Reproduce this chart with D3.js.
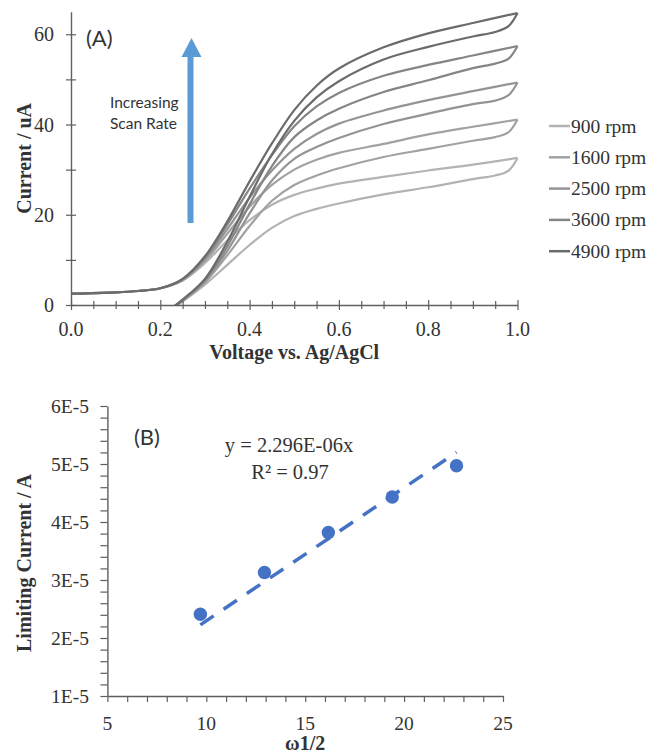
<!DOCTYPE html>
<html>
<head>
<meta charset="utf-8">
<script src="https://cdn.jsdelivr.net/npm/d3@7"></script>
<style>
  body { margin: 0; background: #fff; }
  svg { display: block; }
</style>
</head>
<body>
<svg id="chart" width="652" height="755"></svg>
<script>
// panel A: voltage grid for the forward and the return scan
const voltageFwd = [0, 0.1, 0.15, 0.2, 0.25, 0.3, 0.35, 0.4, 0.45, 0.5, 0.55, 0.6, 0.7, 0.8, 0.9, 1.0];
const voltageRev = [1.0, 0.98, 0.95, 0.9, 0.8, 0.7, 0.6, 0.55, 0.5, 0.45, 0.4, 0.35, 0.3, 0.25, 0.2];

const rpmLabels = ["900 rpm", "1600 rpm", "2500 rpm", "3600 rpm", "4900 rpm"];
const rpmColors = ["#b3b3b3", "#a2a2a2", "#949494", "#858585", "#6b6b6b"];

// current in uA
const fwd900  = [2.5, 2.8, 3.1, 3.7, 5.4, 9.3, 14.3, 18.8, 22.2, 24.4, 25.8, 26.9, 28.4, 29.8, 31.1, 32.6];
const fwd1600 = [2.5, 2.8, 3.1, 3.7, 5.5, 9.8, 15.8, 21.8, 26.6, 30, 32.2, 33.7, 35.7, 37.8, 39.5, 41.1];
const fwd2500 = [2.5, 2.8, 3.1, 3.7, 5.6, 10.2, 16.8, 23.8, 29.8, 34.6, 37.9, 40.2, 43.1, 45.4, 47.4, 49.3];
const fwd3600 = [2.5, 2.8, 3.1, 3.7, 5.7, 10.5, 17.8, 25.8, 33.2, 39.6, 44, 47, 50.8, 53.2, 55.3, 57.4];
const fwd4900 = [2.5, 2.8, 3.1, 3.7, 5.8, 10.8, 18.5, 27.4, 35.8, 43.2, 48.6, 52.4, 57.1, 60.2, 62.5, 64.7];

const rev900  = [32.6, 29.8, 28.7, 27.9, 26.1, 24.5, 22.5, 21.3, 19.7, 17.1, 13.3, 8.9, 4.5, 0.8, -2.5];
const rev1600 = [41.1, 38.3, 37.2, 36.4, 34.6, 32.8, 30.3, 28.7, 26.6, 23.1, 17.5, 11, 5, 0.9, -2.5];
const rev2500 = [49.3, 46.5, 45.3, 44.5, 42.4, 40.1, 37, 35, 32.4, 27.6, 20.3, 12, 5.3, 1, -2.5];
const rev3600 = [57.4, 54.6, 53.5, 52.5, 49.8, 47.2, 43.5, 40.9, 37.2, 30.8, 22.3, 13, 5.5, 1.1, -2.5];
const rev4900 = [64.7, 61.8, 60.5, 59.5, 57.2, 54.4, 49.6, 46, 40.8, 33.4, 24, 14, 5.8, 1.2, -2.5];

const fwdSeries = [fwd900, fwd1600, fwd2500, fwd3600, fwd4900];
const revSeries = [rev900, rev1600, rev2500, rev3600, rev4900];

// panel B: Levich plot
const omegaSqrt = [9.70, 12.94, 16.17, 19.40, 22.65];
const limitingCurrent = [2.41e-5, 3.13e-5, 3.82e-5, 4.43e-5, 4.97e-5];
const trendSlope = 2.296e-6;

const svg = d3.select("#chart");
const serif = "'Liberation Serif', 'Times New Roman', serif";
const sans = "Lato, 'Open Sans', sans-serif";
const axisColor = "#5f5f5f";
const textColor = "#333";

svg.append("rect").attr("width", 652).attr("height", 755).attr("fill", "#fff");

// ---------- panel A ----------
const xA = d3.scaleLinear().domain([0, 1]).range([71, 517.5]);
const yA = d3.scaleLinear().domain([0, 65]).range([305, 11.7]);

svg.append("clipPath").attr("id", "clipA")
  .append("rect")
  .attr("x", xA(0)).attr("y", yA(65))
  .attr("width", xA(1) - xA(0) + 4).attr("height", yA(0) - yA(65));

const curvesA = svg.append("g").attr("clip-path", "url(#clipA)");
const lineFwd = d3.line()
  .x((d, i) => xA(voltageFwd[i]))
  .y((d) => yA(d))
  .curve(d3.curveCatmullRom.alpha(0.5));
const lineRev = d3.line()
  .x((d, i) => xA(voltageRev[i]))
  .y((d) => yA(d))
  .curve(d3.curveCatmullRom.alpha(0.5));

rpmLabels.forEach((name, k) => {
  curvesA.append("path")
    .attr("d", lineFwd(fwdSeries[k]))
    .attr("fill", "none")
    .attr("stroke", rpmColors[k])
    .attr("stroke-width", 2.2)
    .attr("stroke-linejoin", "round");
  curvesA.append("path")
    .attr("d", lineRev(revSeries[k]))
    .attr("fill", "none")
    .attr("stroke", rpmColors[k])
    .attr("stroke-width", 2.2)
    .attr("stroke-linejoin", "round");
});

// x axis (crossing ticks)
const xAxisA = svg.append("g")
  .attr("transform", `translate(0,${yA(0)})`)
  .call(d3.axisBottom(xA).tickValues(d3.range(0, 1.0001, 0.05)).tickFormat("").tickSizeOuter(0));
xAxisA.select(".domain").attr("stroke", axisColor).attr("stroke-width", 1.4);
xAxisA.selectAll(".tick line")
  .attr("stroke", axisColor).attr("stroke-width", 1.2)
  .attr("y1", (d) => (Math.abs(d * 5 - Math.round(d * 5)) < 1e-6 ? -5 : -4))
  .attr("y2", (d) => (Math.abs(d * 5 - Math.round(d * 5)) < 1e-6 ? 5 : 4));

svg.append("g").selectAll("text")
  .data(d3.range(0, 1.0001, 0.2))
  .join("text")
  .attr("x", (d) => xA(d))
  .attr("y", 336)
  .attr("text-anchor", "middle")
  .attr("font-family", serif).attr("font-size", 20).attr("fill", textColor)
  .text((d) => d.toFixed(1));

// y axis
const yAxisA = svg.append("g")
  .attr("transform", `translate(${xA(0)},0)`)
  .call(d3.axisLeft(yA).tickValues(d3.range(0, 61, 10)).tickFormat("").tickSizeOuter(0));
yAxisA.select(".domain").attr("stroke", axisColor).attr("stroke-width", 1.4);
yAxisA.selectAll(".tick line")
  .attr("stroke", axisColor).attr("stroke-width", 1.2)
  .attr("x1", -5).attr("x2", 5);

svg.append("g").selectAll("text")
  .data(d3.range(0, 61, 20))
  .join("text")
  .attr("x", 54)
  .attr("y", (d) => yA(d) + 7)
  .attr("text-anchor", "end")
  .attr("font-family", serif).attr("font-size", 20).attr("fill", textColor)
  .text((d) => d);

svg.append("text")
  .attr("x", (xA(0) + xA(1)) / 2).attr("y", 359)
  .attr("text-anchor", "middle")
  .attr("font-family", serif).attr("font-size", 20).attr("font-weight", "bold").attr("fill", textColor)
  .text("Voltage vs. Ag/AgCl");

svg.append("text")
  .attr("transform", `translate(31,${yA(32.5)}) rotate(-90)`)
  .attr("text-anchor", "middle")
  .attr("font-family", serif).attr("font-size", 20).attr("font-weight", "bold").attr("fill", textColor)
  .text("Current / uA");

svg.append("text")
  .attr("x", 86).attr("y", 46)
  .attr("font-family", sans).attr("font-size", 22).attr("fill", textColor)
  .text("(A)");

// blue arrow
svg.append("rect")
  .attr("x", 187.5).attr("y", 56).attr("width", 6).attr("height", 167)
  .attr("fill", "#5b9bd5");
svg.append("path")
  .attr("d", "M181.5,57 L201.5,57 L191.5,38 Z")
  .attr("fill", "#5b9bd5");

svg.append("text")
  .attr("x", 110).attr("y", 108)
  .attr("font-family", sans).attr("font-size", 15.5).attr("fill", textColor)
  .text("Increasing");
svg.append("text")
  .attr("x", 110).attr("y", 129)
  .attr("font-family", sans).attr("font-size", 15.5).attr("fill", textColor)
  .text("Scan Rate");

// legend
const legend = svg.append("g").selectAll("g")
  .data(rpmLabels)
  .join("g")
  .attr("transform", (d, i) => `translate(549,${126 + i * 31.3})`);
legend.append("line")
  .attr("x1", 0).attr("x2", 21)
  .attr("stroke", (d, i) => rpmColors[i]).attr("stroke-width", 2.5);
legend.append("text")
  .attr("x", 22).attr("y", 6.5)
  .attr("font-family", serif).attr("font-size", 19.5).attr("fill", textColor)
  .text((d) => d);

// ---------- panel B ----------
const xB = d3.scaleLinear().domain([5, 25]).range([107.4, 503]);
const yB = d3.scaleLinear().domain([1e-5, 6e-5]).range([696, 406]);

const xAxisB = svg.append("g")
  .attr("transform", `translate(0,${yB(1e-5)})`)
  .call(d3.axisBottom(xB).tickValues(d3.range(5, 25.001, 1)).tickFormat("").tickSize(6).tickSizeOuter(0));
xAxisB.select(".domain").attr("stroke", axisColor).attr("stroke-width", 1.4);
xAxisB.selectAll(".tick line").attr("stroke", axisColor).attr("stroke-width", 1.2);

svg.append("g").selectAll("text")
  .data(d3.range(5, 25.001, 5))
  .join("text")
  .attr("x", (d) => xB(d))
  .attr("y", 730)
  .attr("text-anchor", "middle")
  .attr("font-family", serif).attr("font-size", 19.5).attr("fill", textColor)
  .text((d) => d);

const yAxisB = svg.append("g")
  .attr("transform", `translate(${xB(5)},0)`)
  .call(d3.axisLeft(yB).tickValues(d3.range(10, 60.001, 2).map((v) => v * 1e-6)).tickFormat("").tickSize(7).tickSizeOuter(0));
yAxisB.select(".domain").attr("stroke", axisColor).attr("stroke-width", 1.4);
yAxisB.selectAll(".tick line").attr("stroke", axisColor).attr("stroke-width", 1.2);

svg.append("g").selectAll("text")
  .data(d3.range(1, 6.001, 1))
  .join("text")
  .attr("x", 89)
  .attr("y", (d) => yB(d * 1e-5) + 7)
  .attr("text-anchor", "end")
  .attr("font-family", serif).attr("font-size", 19.5).attr("fill", textColor)
  .text((d) => `${d}E-5`);

svg.append("text")
  .attr("x", (xB(5) + xB(25)) / 2).attr("y", 750)
  .attr("text-anchor", "middle")
  .attr("font-family", serif).attr("font-size", 20).attr("font-weight", "bold").attr("fill", textColor)
  .text("ω1/2");

svg.append("text")
  .attr("transform", `translate(31,${yB(3.5e-5) + 12}) rotate(-90)`)
  .attr("text-anchor", "middle")
  .attr("font-family", serif).attr("font-size", 20).attr("font-weight", "bold").attr("fill", textColor)
  .text("Limiting Current / A");

// trendline through origin, drawn over the data range
const xMin = d3.min(omegaSqrt), xMax = d3.max(omegaSqrt);
svg.append("line")
  .attr("x1", xB(xMin)).attr("y1", yB(trendSlope * xMin))
  .attr("x2", xB(xMax)).attr("y2", yB(trendSlope * xMax))
  .attr("stroke", "#4472c4").attr("stroke-width", 3.5)
  .attr("stroke-dasharray", "16,12");

svg.append("g").selectAll("circle")
  .data(omegaSqrt)
  .join("circle")
  .attr("cx", (d) => xB(d))
  .attr("cy", (d, i) => yB(limitingCurrent[i]))
  .attr("r", 6.7)
  .attr("fill", "#4472c4");

svg.append("text")
  .attr("x", 134).attr("y", 445)
  .attr("font-family", sans).attr("font-size", 22).attr("fill", textColor)
  .text("(B)");

svg.append("text")
  .attr("x", 289).attr("y", 452)
  .attr("text-anchor", "middle")
  .attr("font-family", serif).attr("font-size", 20.5).attr("fill", textColor)
  .text("y = 2.296E-06x");
svg.append("text")
  .attr("x", 290).attr("y", 479)
  .attr("text-anchor", "middle")
  .attr("font-family", serif).attr("font-size", 20.5).attr("fill", textColor)
  .text("R² = 0.97");
</script>
</body>
</html>
